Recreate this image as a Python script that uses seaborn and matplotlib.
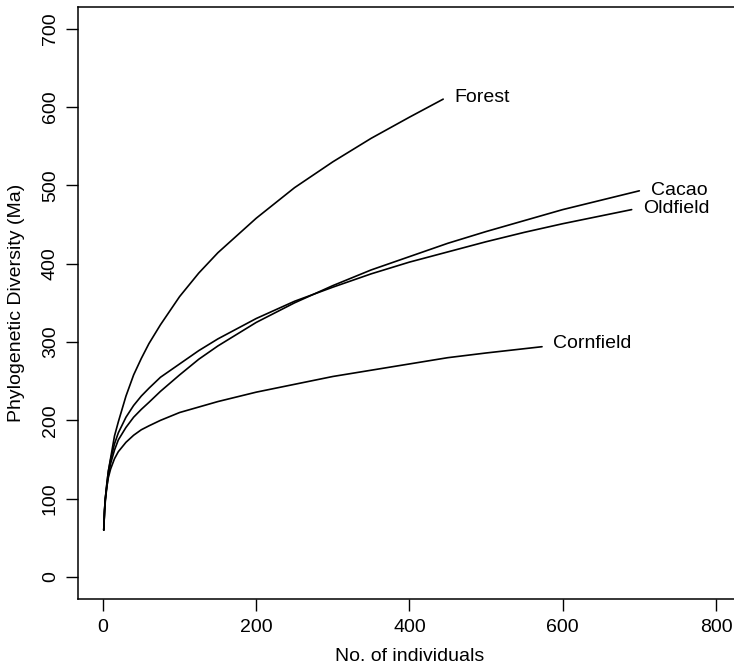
import matplotlib
matplotlib.use("Agg")
import matplotlib.pyplot as plt
import seaborn as sns
import pandas as pd

# rarefaction curves
forest_n = [1, 2, 3, 5, 7, 10, 15, 20, 30, 40, 50, 60, 75, 100, 125, 150, 200, 250, 300, 350, 400, 444]
forest_pd = [60, 85, 100, 118, 135, 152, 180, 198, 231, 258, 279, 298, 322, 358, 388, 414, 458, 497, 530, 560, 587, 610]

cacao_n = [1, 2, 3, 5, 7, 10, 15, 20, 30, 40, 50, 60, 75, 100, 125, 150, 200, 250, 300, 350, 400, 450, 500, 550, 600, 650, 700]
cacao_pd = [60, 82, 96, 115, 130, 145, 162, 175, 191, 204, 214, 223, 237, 258, 278, 295, 325, 350, 372, 392, 409, 426, 441, 455, 469, 481, 493]

oldfield_n = [1, 2, 3, 5, 7, 10, 15, 20, 30, 40, 50, 60, 75, 100, 125, 150, 200, 250, 300, 350, 400, 450, 500, 550, 600, 650, 690]
oldfield_pd = [60, 84, 99, 119, 135, 150, 170, 184, 204, 219, 231, 241, 255, 272, 289, 304, 330, 352, 370, 387, 402, 415, 428, 440, 451, 461, 469]

cornfield_n = [1, 2, 3, 5, 7, 10, 15, 20, 30, 40, 50, 60, 75, 100, 125, 150, 200, 250, 300, 350, 400, 450, 500, 573]
cornfield_pd = [60, 85, 100, 115, 127, 138, 151, 160, 172, 181, 188, 193, 200, 210, 217, 224, 236, 246, 256, 264, 272, 280, 286, 294]

site_names = ["Forest", "Cacao", "Oldfield", "Cornfield"]
label_x = [458, 715, 705, 587]
label_y = [612, 494, 470, 298]

x_ticks = [0, 200, 400, 600, 800]
y_ticks = [0, 100, 200, 300, 400, 500, 600, 700]

curves = pd.concat([
    pd.DataFrame({"site": "Forest", "n": forest_n, "pd": forest_pd}),
    pd.DataFrame({"site": "Cacao", "n": cacao_n, "pd": cacao_pd}),
    pd.DataFrame({"site": "Oldfield", "n": oldfield_n, "pd": oldfield_pd}),
    pd.DataFrame({"site": "Cornfield", "n": cornfield_n, "pd": cornfield_pd}),
])

sns.set_style("white")
plt.rcParams["font.family"] = ["Liberation Sans", "DejaVu Sans"]
plt.rcParams["font.size"] = 14
plt.rcParams["text.color"] = "black"
plt.rcParams["axes.labelcolor"] = "black"
plt.rcParams["xtick.color"] = "black"
plt.rcParams["ytick.color"] = "black"

fig = plt.figure(figsize=(7.34, 6.70), dpi=100)
ax = fig.add_axes([0.1069, 0.1060, 0.9019, 0.8840])

sns.lineplot(data=curves, x="n", y="pd", hue="site", units="site", estimator=None,
             palette={s: "black" for s in site_names}, linewidth=1.2,
             legend=False, ax=ax, sort=False)

for name, lx, ly in zip(site_names, label_x, label_y):
    ax.text(lx, ly, name, ha="left", va="center", fontsize=14, color="black")

ax.set_xlim(-32, 832)
ax.set_ylim(-28, 728)
ax.set_xticks(x_ticks)
ax.set_yticks(y_ticks)
ax.tick_params(axis="both", direction="out", length=8.6, width=1.0, pad=5.5,
               labelsize=14, colors="black", bottom=True, left=True)
for lab in ax.get_yticklabels():
    lab.set_rotation(90)
    lab.set_va("center")

for sp in ax.spines.values():
    sp.set_color("black")
    sp.set_linewidth(1.1)

ax.set_xlabel("No. of individuals", fontsize=14, labelpad=9)
ax.set_ylabel("Phylogenetic Diversity (Ma)", fontsize=14, labelpad=12)

fig.savefig("out.png", dpi=100)
